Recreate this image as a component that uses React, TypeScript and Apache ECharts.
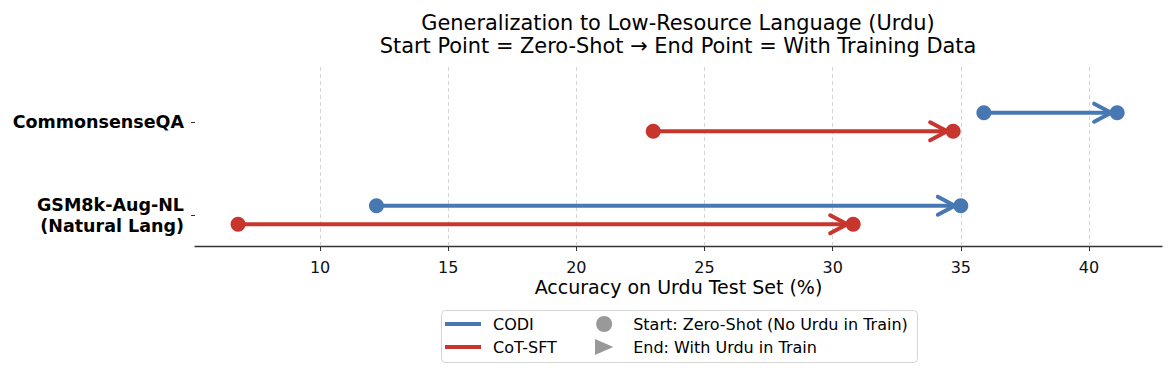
import React, { useEffect, useRef } from "react";
import * as echarts from "echarts";

const categories = ["GSM8k-Aug-NL\n(Natural Lang)", "CommonsenseQA"];
const xTicks = [10, 15, 20, 25, 30, 35, 40];
// [start (zero-shot), end (with Urdu), category index]
const codiData = [
  [35.9, 41.1, 1],
  [12.2, 35.0, 0],
];
const cotData = [
  [23.0, 34.7, 1],
  [6.8, 30.8, 0],
];
const seriesNames = ["CODI", "CoT-SFT"];
const markerNames = ["Start: Zero-Shot (No Urdu in Train)", "End: With Urdu in Train"];
const titleLines = [
  "Generalization to Low-Resource Language (Urdu)",
  "Start Point = Zero-Shot \u2192 End Point = With Training Data",
];

const BLUE = "#4778b2";
const RED = "#c8352d";
const GRAY = "#808080";
const FONT = "DejaVu Sans";

function arrowRenderer(color: string, offset: number) {
  return (params: any, api: any) => {
    const y = api.value(2) + offset;
    const p0 = api.coord([api.value(0), y]);
    const p1 = api.coord([api.value(1), y]);
    const tip = [p1[0] - 6, p1[1]];
    return {
      type: "group",
      children: [
        {
          type: "line",
          shape: { x1: p0[0], y1: p0[1], x2: tip[0], y2: tip[1] },
          style: { stroke: color, lineWidth: 4 },
        },
        {
          type: "polyline",
          shape: {
            points: [
              [tip[0] - 17, tip[1] - 9],
              [tip[0], tip[1]],
              [tip[0] - 17, tip[1] + 9],
            ],
          },
          style: { stroke: color, lineWidth: 4, fill: null, lineCap: "round", lineJoin: "miter" },
        },
        { type: "circle", shape: { cx: p0[0], cy: p0[1], r: 7.5 }, style: { fill: color } },
        { type: "circle", shape: { cx: p1[0], cy: p1[1], r: 7.5 }, style: { fill: color } },
      ],
    };
  };
}

export default function App() {
  const ref = useRef<HTMLDivElement>(null);
  useEffect(() => {
    if (!ref.current) return;
    const chart = echarts.init(ref.current, null, { renderer: "svg" });
    const option: any = {
      animation: false,
      textStyle: { fontFamily: FONT },
      grid: { left: 195, right: 6, top: 65, bottom: 122 },
      graphic: [
        {
          type: "text",
          x: 678,
          y: 11,
          z: 10,
          style: {
            text: titleLines.join("\n"),
            textAlign: "center",
            fontFamily: FONT,
            fontSize: 20.9,
            lineHeight: 23.5,
            fill: "#000",
          },
        },
        {
          type: "rect",
          z: 0,
          shape: { x: 441.5, y: 310.5, width: 476, height: 52, r: 4 },
          style: { fill: "#fff", stroke: "#d4d4d4", lineWidth: 1 },
        },
      ],
      xAxis: {
        type: "value",
        min: 5.12,
        max: 42.85,
        name: "Accuracy on Urdu Test Set (%)",
        nameLocation: "middle",
        nameGap: 31,
        nameTextStyle: { fontSize: 19, color: "#000", fontFamily: FONT },
        axisLine: { show: true, onZero: false, lineStyle: { color: "#333", width: 1.3 } },
        axisTick: { show: true, customValues: xTicks, length: 5, lineStyle: { color: "#333" } },
        axisLabel: {
          customValues: xTicks,
          margin: 13,
          fontSize: 16,
          color: "#111",
          fontFamily: FONT,
        },
        splitLine: { show: false },
      },
      yAxis: {
        type: "value",
        min: -0.333,
        max: 1.613,
        axisLine: { show: false, onZero: false },
        splitLine: { show: false },
        axisTick: { show: true, customValues: [0, 1], length: 4, lineStyle: { color: "#333" } },
        axisLabel: {
          customValues: [0, 1],
          formatter: (v: number) => categories[Math.round(v)],
          fontSize: 17.5,
          fontWeight: "bold",
          lineHeight: 21,
          color: "#000",
          align: "right",
          margin: 11,
          fontFamily: FONT,
        },
      },
      legend: [
        {
          data: seriesNames.map((n) => ({ name: n, icon: "rect" })),
          orient: "vertical",
          left: 445,
          top: 316,
          bottom: 0,
          padding: 0,
          itemWidth: 36,
          itemHeight: 4,
          itemGap: 7,
          textStyle: { fontSize: 16, color: "#000", lineHeight: 16, padding: [0, 0, 0, 7], fontFamily: FONT },
        },
        {
          data: [
            { name: markerNames[0], icon: "circle" },
            { name: markerNames[1], icon: "path://M0,0L16,7L0,14Z" },
          ],
          orient: "vertical",
          left: 595,
          top: 316,
          bottom: 0,
          padding: 0,
          itemWidth: 36,
          itemHeight: 16,
          itemGap: 7,
          textStyle: { fontSize: 16, color: "#000", lineHeight: 16, padding: [0, 0, 0, 6], fontFamily: FONT },
        },
      ],
      series: [
        {
          type: "custom",
          name: seriesNames[0],
          coordinateSystem: "cartesian2d",
          itemStyle: { color: BLUE },
          encode: { x: [0, 1], y: 2 },
          data: codiData,
          renderItem: arrowRenderer(BLUE, 0.1),
          z: 5,
          markLine: {
            silent: true,
            symbol: ["none", "none"],
            label: { show: false },
            lineStyle: { type: [4, 3], color: "#d4d4d4", width: 1 },
            data: xTicks.map((t) => ({ xAxis: t })),
            z: 1,
          },
        },
        {
          type: "custom",
          name: seriesNames[1],
          coordinateSystem: "cartesian2d",
          itemStyle: { color: RED },
          encode: { x: [0, 1], y: 2 },
          data: cotData,
          renderItem: arrowRenderer(RED, -0.1),
          z: 5,
        },
        { type: "scatter", name: markerNames[0], data: [], itemStyle: { color: GRAY } },
        { type: "scatter", name: markerNames[1], data: [], itemStyle: { color: GRAY } },
      ],
    };
    chart.setOption(option);
    return () => chart.dispose();
  }, []);
  return (
    <div
      ref={ref}
      style={{ position: "fixed", left: 0, top: 0, width: 1168, height: 368, background: "#fff" }}
    />
  );
}
